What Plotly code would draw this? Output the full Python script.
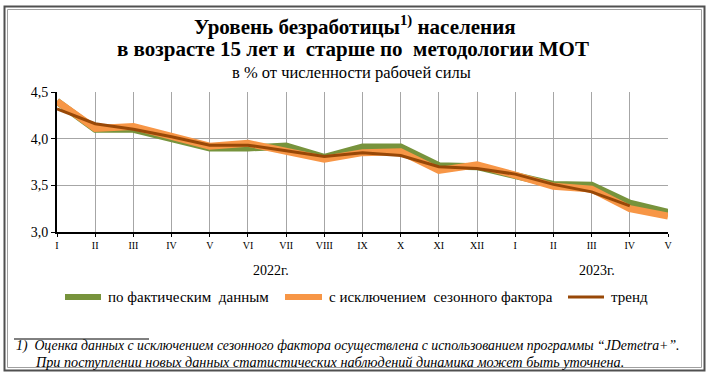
import plotly.graph_objects as go

# ---- data ----
months = ["I", "II", "III", "IV", "V", "VI", "VII", "VIII", "IX", "X", "XI", "XII",
          "I", "II", "III", "IV", "V"]
actual = [4.40, 4.10, 4.10, 4.00, 3.90, 3.90, 3.92, 3.80, 3.91, 3.91, 3.71, 3.70,
          3.60, 3.51, 3.50, 3.31, 3.21]
seasonal = [4.40, 4.11, 4.13, 4.02, 3.92, 3.95, 3.86, 3.78, 3.85, 3.86, 3.66, 3.72,
            3.61, 3.49, 3.46, 3.25, 3.17]
trend = [4.32, 4.16, 4.10, 4.02, 3.93, 3.93, 3.87, 3.81, 3.85, 3.82, 3.70, 3.68,
         3.62, 3.51, 3.43, 3.28, None]
years = ["2022г.", "2023г."]
year_pos = [5.6, 14.15]
y_ticks = [3.0, 3.5, 4.0, 4.5]
series_names = ["по фактическим  данным", "с исключением  сезонного фактора", "тренд"]

W, H = 709, 376
L, R, T, B = 57, 668, 92, 232   # plot area in pixels


def px(x):
    return (x - L) / (R - L)


def py(y):
    return (B - y) / (B - T)


GREEN = "#77933C"
ORANGE = "#F79646"
BROWN = "#984807"
SERIF = "Liberation Serif, Times New Roman, serif"

xs = list(range(len(months)))

fig = go.Figure()
fig.add_trace(go.Scatter(x=xs, y=actual, mode="lines", name=series_names[0],
                         line=dict(color=GREEN, width=7), showlegend=False))
fig.add_trace(go.Scatter(x=xs, y=seasonal, mode="lines", name=series_names[1],
                         line=dict(color=ORANGE, width=7), showlegend=False))
fig.add_trace(go.Scatter(x=xs, y=trend, mode="lines", name=series_names[2],
                         line=dict(color=BROWN, width=3), showlegend=False))

fig.update_layout(
    width=W, height=H,
    margin=dict(l=L, r=W - R, t=T, b=H - B),
    paper_bgcolor="white", plot_bgcolor="white",
    separators=", ",
    font=dict(family=SERIF, color="black", size=13),
    xaxis=dict(range=[0, len(months) - 1], tickvals=xs, ticktext=months,
               showgrid=True, gridcolor="#A6A6A6", gridwidth=1,
               showline=True, linecolor="black", linewidth=2,
               ticks="outside", ticklen=3, tickcolor="black",
               tickfont=dict(size=10, family=SERIF), zeroline=False),
    yaxis=dict(range=[3.0, 4.5], tickvals=y_ticks, tickformat=".1f",
               showgrid=True, gridcolor="#A6A6A6", gridwidth=1,
               showline=True, linecolor="black", linewidth=2,
               ticks="outside", ticklen=4, tickcolor="black",
               tickfont=dict(size=14, family=SERIF), zeroline=False),
)

shapes = []
# double frame
shapes.append(dict(type="rect", xref="paper", yref="paper",
                   x0=px(4.5), x1=px(704.5), y0=py(6.5), y1=py(370.5),
                   line=dict(color="#505050", width=2), layer="above"))
shapes.append(dict(type="rect", xref="paper", yref="paper",
                   x0=px(7.5), x1=px(701.5), y0=py(9.5), y1=py(367.5),
                   line=dict(color="#A0A0A0", width=1), layer="above"))
# footnote separator
shapes.append(dict(type="line", xref="paper", yref="paper",
                   x0=px(14), x1=px(149), y0=py(339), y1=py(339),
                   line=dict(color="black", width=1)))
# legend swatches
leg_sw = [(65, 101, GREEN, 6), (285, 322, ORANGE, 6), (568, 604, BROWN, 3)]
for x0, x1, c, w in leg_sw:
    shapes.append(dict(type="line", xref="paper", yref="paper",
                       x0=px(x0), x1=px(x1), y0=py(297), y1=py(297),
                       line=dict(color=c, width=w)))
fig.update_layout(shapes=shapes)

ann = []
ann.append(dict(text="<b>Уровень безработицы<sup>1)</sup> населения</b>",
                x=px(355), y=py(26), font=dict(size=21)))
ann.append(dict(text="<b>в возрасте 15 лет и  старше по  методологии МОТ</b>",
                x=px(353), y=py(49), font=dict(size=21)))
ann.append(dict(text="в % от численности рабочей силы",
                x=px(351), y=py(72), font=dict(size=16.5)))
for t, xp in zip(years, year_pos):
    ann.append(dict(text=t, x=xp, xref="x", y=py(270), font=dict(size=14)))
for (x0, x1, c, w), name in zip(leg_sw, series_names):
    ann.append(dict(text=name, x=px(x1 + 5), y=py(297), xanchor="left",
                    font=dict(size=15)))
ann.append(dict(text="<i>1)  Оценка данных с исключением сезонного фактора осуществлена с использованием программы “JDemetra+”.</i>",
                x=px(14), y=py(346), xanchor="left", font=dict(size=13.8)))
ann.append(dict(text="<i>При поступлении новых данных статистических наблюдений динамика может быть уточнена.</i>",
                x=px(33), y=py(361.5), xanchor="left", font=dict(size=14.2)))
for a in ann:
    a.setdefault("xref", "paper")
    a.setdefault("yref", "paper")
    a.setdefault("xanchor", "center")
    a.setdefault("yanchor", "middle")
    a["showarrow"] = False
fig.update_layout(annotations=ann)

fig.write_html("out.html", config={"displayModeBar": False},
               post_script="document.body.style.margin='0';")
